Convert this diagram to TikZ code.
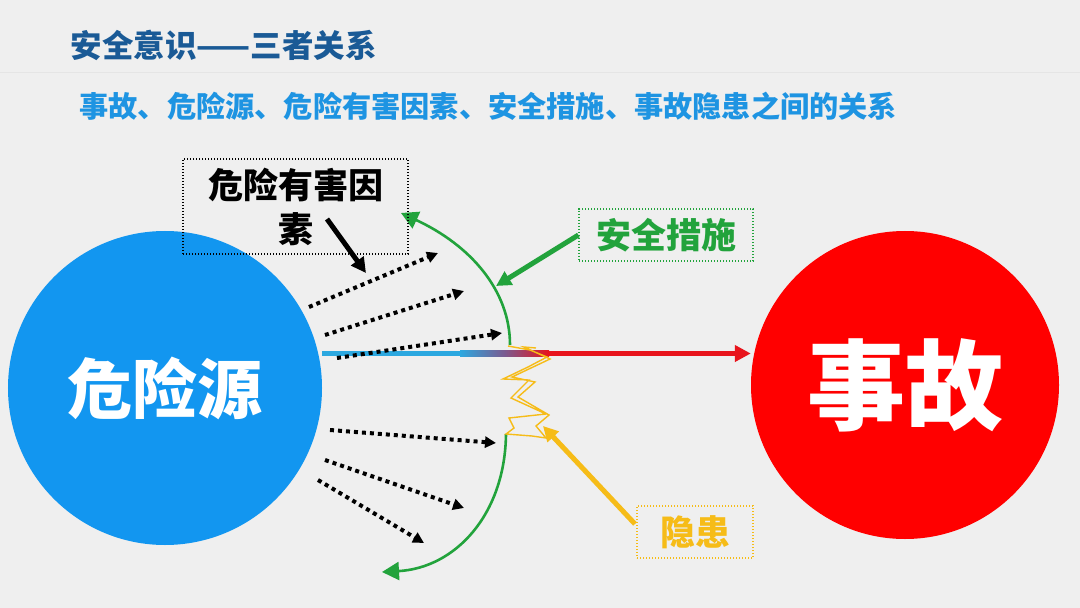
\documentclass[tikz,border=0pt]{standalone}
\usepackage{fontspec}
\newfontfamily\cjk{Noto Sans CJK SC}
\usetikzlibrary{arrows.meta,calc}
\definecolor{bg}{HTML}{EFEFEF}
\definecolor{titleblue}{HTML}{1A5A96}
\definecolor{subblue}{HTML}{1E94E2}
\definecolor{srcblue}{HTML}{1296F0}
\definecolor{accred}{HTML}{FF0000}
\definecolor{linered}{HTML}{E8141C}
\definecolor{lineblue}{HTML}{2CA8E0}
\definecolor{midpurple}{HTML}{7A5A90}
\definecolor{sgreen}{HTML}{22A33C}
\definecolor{hyellow}{HTML}{F6BC18}
\tikzset{
  bigcircle/.style={circle, inner sep=0pt, text=white, font=\cjk\bfseries},
  dotarrow/.style={line width=4bp, black, dash pattern=on 4bp off 4bp, -{Triangle[length=11bp,width=11bp]}},
  labelbox/.style={draw, line width=1.2bp, dash pattern=on 1.2bp off 1.8bp, inner sep=0pt, font=\cjk\bfseries},
  greenarc/.style={sgreen, line width=2.6bp, -{Triangle[length=17bp,width=18bp]}},
  pointer/.style={line width=5bp, -{Triangle[length=15bp,width=15bp]}}
}
\begin{document}
\begin{tikzpicture}[x=1bp,y=-1bp]
\fill[bg] (0,0) rectangle (1080,608);
\useasboundingbox (0,0) rectangle (1080,608);
\draw[line width=0.8bp, black!10] (0,72) -- (1080,72);

% titles
\node[anchor=west, text=titleblue, font=\cjk\bfseries\fontsize{31.5bp}{34bp}\selectfont] (title) at (67,45) {安全意识——三者关系};
\node[anchor=west, text=subblue, font=\cjk\bfseries\fontsize{29.2bp}{32bp}\selectfont] (sub) at (76,106) {事故、危险源、危险有害因素、安全措施、事故隐患之间的关系};

% circles
\node[bigcircle, fill=srcblue, minimum size=314bp, font=\cjk\bfseries\fontsize{65bp}{70bp}\selectfont] (src) at (165,388) {危险源};
\node[bigcircle, fill=accred, minimum size=308bp, font=\cjk\bfseries\fontsize{98bp}{104bp}\selectfont] (acc) at (905,385) {事故};

% main arrow with gradient
\coordinate (m1) at (src.east |- 0,353.5);
\coordinate (m2) at (460,353.5);
\coordinate (m3) at (548,353.5);
\coordinate (m4) at (acc.west |- 0,353.5);
\fill[lineblue] ($(m1)+(0,-2.6)$) rectangle ($(m2)+(0,2.6)$);
\shade[left color=lineblue, right color=linered, middle color=midpurple] (460,350.9) rectangle (549,356.1);
\draw[linered, line width=5.2bp, -{Triangle[length=16bp,width=16bp]}] (m3) -- (m4);

% dotted arrows (hazard factors)
\coordinate (a1s) at (309,307); \coordinate (a1e) at (438,253);
\coordinate (a2s) at (325,335); \coordinate (a2e) at (464,291);
\coordinate (a3s) at (337,358); \coordinate (a3e) at (502,333);
\coordinate (b1s) at (330,430); \coordinate (b1e) at (496,443);
\coordinate (b2s) at (325,460); \coordinate (b2e) at (464,508);
\coordinate (b3s) at (318,480); \coordinate (b3e) at (424,543);
\foreach \p in {a1,a2,a3,b1,b2,b3} \draw[dotarrow] (\p s) -- (\p e);

% green arcs (safety measures)
\coordinate (g1) at (510,345);
\coordinate (g1e) at (401,213);
\coordinate (g2) at (506,434);
\coordinate (g2e) at (382,572);
\draw[greenarc] (g1) .. controls (510,290) and (470,245) .. (g1e);
\draw[greenarc] (g2) .. controls (505,515) and (455,568) .. (g2e);

% yellow crack (hidden danger)
\draw[hyellow, line width=1.4bp, line join=miter]
  (508,346) -- (530,350) -- (547,357) -- (528,367) -- (503,379) -- (529,380)
  -- (511,398) -- (546,414) -- (509,418) -- (514,428) -- (506,434)
  -- (532,436) -- (546,438) -- (536,426) -- (549,415) -- (518,397)
  -- (535,382) -- (512,377) -- (550,359) -- (524,347) -- (536,348);

% label boxes
\node[labelbox, black, minimum width=225bp, minimum height=95bp, text width=215bp, align=center, font=\cjk\bfseries\fontsize{35bp}{44bp}\selectfont] (hf) at (295.5,206.5) {危险有害因\\素};
\node[labelbox, sgreen, text=sgreen, minimum width=174bp, minimum height=52bp, font=\cjk\bfseries\fontsize{35bp}{40bp}\selectfont] (sm) at (666,235) {安全措施};
\node[labelbox, hyellow, text=hyellow, minimum width=116bp, minimum height=52bp, font=\cjk\bfseries\fontsize{35bp}{40bp}\selectfont] (hz) at (695,532) {隐患};

% pointers
\coordinate (hfp) at (327,219);
\coordinate (hft) at (366,273);
\draw[pointer, black] (hfp) -- (hft);
\coordinate (smt) at (496,286);
\draw[pointer, sgreen] (sm.west) -- (smt);
\coordinate (hzs) at (635,524);
\coordinate (hzt) at (543,426);
\draw[pointer, hyellow] (hzs) -- (hzt);
\end{tikzpicture}
\end{document}
